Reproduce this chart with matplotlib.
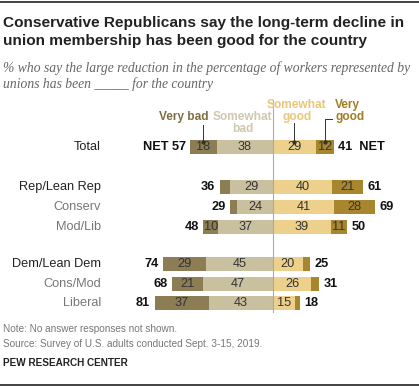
import numpy as np
import matplotlib.pyplot as plt
from matplotlib.lines import Line2D

plt.rcParams['font.family'] = ['Liberation Sans', 'DejaVu Sans']

# --- data ---
groups = ["Total", "Rep/Lean Rep", "Conserv", "Mod/Lib", "Dem/Lean Dem", "Cons/Mod", "Liberal"]
very_bad = [18, 7, 5, 10, 29, 21, 37]
smwt_bad = [38, 29, 24, 37, 45, 47, 43]
smwt_good = [29, 40, 41, 39, 20, 26, 15]
very_good = [12, 21, 28, 11, 5, 5, 3]
net_bad = [57, 36, 29, 48, 74, 68, 81]
net_good = [41, 61, 69, 50, 25, 31, 18]
sub_rows = ["Conserv", "Mod/Lib", "Cons/Mod", "Liberal"]

c_vb, c_sb, c_sg, c_vg = "#8c7d55", "#c9c0a0", "#ecd08c", "#a8862e"

W, H = 419, 387
fig = plt.figure(figsize=(W / 100, H / 100), dpi=100)

# row positions (gaps between blocks)
ypos = np.array([0, 2, 3, 4, 5.85, 6.85, 7.8])

# bar axes, 1 unit = 1.48 px, zero at x=273 px
px = 1.48
left_px, right_px, top_px, bot_px = 140, 400, 100, 313
ax = fig.add_axes([left_px / W, 1 - bot_px / H, (right_px - left_px) / W, (bot_px - top_px) / H])
ax.set_xlim(-(273 - left_px) / px, (right_px - 273) / px)
ax.set_ylim((bot_px - 147) / 20, (top_px - 147) / 20)
ax.axis("off")

vb = np.array(very_bad)
sb = np.array(smwt_bad)
sg = np.array(smwt_good)
vg = np.array(very_good)
h = 0.68
ax.barh(ypos, -sb, height=h, color=c_sb)
ax.barh(ypos, -vb, left=-sb, height=h, color=c_vb)
ax.barh(ypos, sg, height=h, color=c_sg)
ax.barh(ypos, vg, left=sg, height=h, color=c_vg)
ax.axvline(0, color="#aaaaaa", lw=0.8)

num_kw = dict(ha="center", va="center", fontsize=9.2, color="#333333")
for i, y in enumerate(ypos):
    if vb[i] >= 10:
        ax.text(-sb[i] - vb[i] / 2, y, str(vb[i]), **num_kw)
    ax.text(-sb[i] / 2, y, str(sb[i]), **num_kw)
    ax.text(sg[i] / 2, y, str(sg[i]), **num_kw)
    if vg[i] >= 10:
        ax.text(sg[i] + vg[i] / 2, y, str(vg[i]), **num_kw)
    bkw = dict(va="center", fontsize=9.2, fontweight="bold", color="#111111")
    lb = f"NET {net_bad[i]}" if i == 0 else str(net_bad[i])
    rg = f"{net_good[i]}  NET" if i == 0 else str(net_good[i])
    ax.text(-(sb[i] + vb[i]) - 3, y, lb, ha="right", **bkw)
    ax.text(sg[i] + vg[i] + 3, y, rg, ha="left", **bkw)
    # group labels
    col = "#777777" if groups[i] in sub_rows else "#222222"
    fig.text(101 / W, 1 - (147 + (y - ypos[0]) * 20) / H, groups[i], ha="right", va="center",
             fontsize=9.2, color=col)

# header labels with leader lines
hkw = dict(fontsize=8.6, fontweight="bold", linespacing=0.95)
y_top = ypos[0] - h / 2
x_vb = -sb[0] - vb[0] / 2
x_sg = sg[0] / 2
x_vg = sg[0] + vg[0] / 2
ax.text(x_vb + 3.5, -1.5, "Very bad", ha="right", va="center", color="#7d6f45", **hkw)
ax.text(-sb[0] / 2 - 1.5, -1.2, "Somewhat\nbad", ha="center", va="center", color="#cfc8af", **hkw)
ax.text(x_sg + 1.5, -1.8, "Somewhat\ngood", ha="center", va="center", color="#e8c878", **hkw)
ax.text(x_vg + 7, -1.8, "Very\ngood", ha="left", va="center", color="#a07e26", **hkw)
ax.plot([x_vb, x_vb], [-1.1, y_top + 0.1], color="#333333", lw=0.7)
ax.plot([x_vb], [y_top + 0.1], marker="o", ms=2, color="#333333")
ax.plot([x_sg, x_sg], [-1.2, y_top + 0.1], color="#333333", lw=0.7)
ax.plot([x_sg], [y_top + 0.1], marker="o", ms=2, color="#333333")
ax.plot([x_vg + 5, x_vg, x_vg], [-1.4, -1.4, y_top + 0.1], color="#333333", lw=0.7)
ax.plot([x_vg], [y_top + 0.1], marker="o", ms=2, color="#333333")

# title and subtitle
fig.text(3 / W, 1 - 32 / H, "Conservative Republicans say the long-term decline in\nunion membership has been good for the country",
         ha="left", va="center", fontsize=11.1, fontweight="bold", color="#222222", linespacing=1.3)
fig.text(3 / W, 1 - 76 / H, "% who say the large reduction in the percentage of workers represented by\nunions has been _____ for the country",
         ha="left", va="center", fontsize=9.8, style="italic", color="#666666",
         family=["Liberation Serif", "DejaVu Serif"], linespacing=1.2)

# notes
nkw = dict(ha="left", va="center", fontsize=7.2, color="#777777")
fig.text(3 / W, 1 - 329 / H, "Note: No answer responses not shown.", **nkw)
fig.text(3 / W, 1 - 344 / H, "Source: Survey of U.S. adults conducted Sept. 3-15, 2019.", **nkw)
fig.text(3 / W, 1 - 363 / H, "PEW RESEARCH CENTER", ha="left", va="center", fontsize=7.2, fontweight="bold",
         color="#222222")

# rules at top and bottom
fig.add_artist(Line2D([0, 1], [1 - 2 / H, 1 - 2 / H], color="#222222", lw=1.2))
fig.add_artist(Line2D([0, 1], [1 - 385 / H, 1 - 385 / H], color="#222222", lw=1.2))

fig.savefig("out.png", dpi=100)
